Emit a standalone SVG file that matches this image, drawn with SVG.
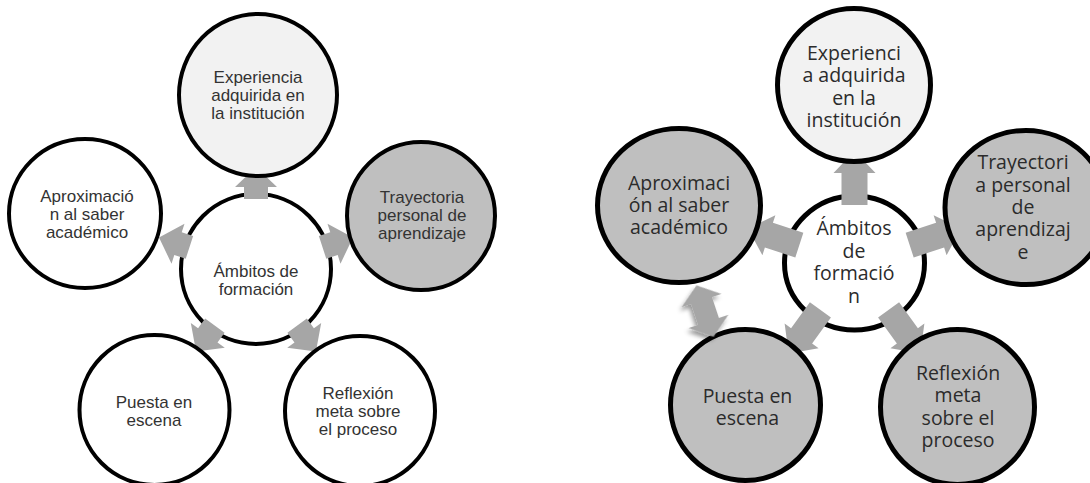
<svg xmlns="http://www.w3.org/2000/svg" xmlns:xlink="http://www.w3.org/1999/xlink" width="1090" height="483" viewBox="0 0 1090 483">
<style>
.nL{stroke:#000;stroke-width:4}
.nR{stroke:#000;stroke-width:5}
.tL{font-family:"Liberation Sans",Arial,sans-serif;font-size:17px;fill:#333;text-anchor:middle}
.tR{font-family:"Open Sans","Noto Sans",sans-serif;font-weight:400;font-size:19.5px;fill:#2b2b2b;text-anchor:middle}
.arr{fill:#a6a6a6}
</style>
<defs>
<path id="arrL" d="M70,-12 L82,-12 L82,-21 L102,0 L82,21 L82,12 L70,12 Z"/>
<path id="arrR" d="M58,-13 L90,-13 L90,-21 L112,0 L90,21 L90,13 L58,13 Z"/>
<filter id="sh" x="-50%" y="-50%" width="200%" height="200%">
<feDropShadow dx="3" dy="3" stdDeviation="2" flood-color="#000" flood-opacity="0.4"/>
</filter>
</defs>
<rect width="1090" height="483" fill="#fff"/>

<!-- LEFT DIAGRAM -->
<g id="L-center"><circle class="nL" cx="256" cy="269" r="75" fill="#fff"/></g>
<g id="L-connectors" class="arr">
<use xlink:href="#arrL" href="#arrL" transform="translate(256 269) rotate(-90)"/>
<use xlink:href="#arrL" href="#arrL" transform="translate(256 269) rotate(-18)"/>
<use xlink:href="#arrL" href="#arrL" transform="translate(256 269) rotate(54)"/>
<use xlink:href="#arrL" href="#arrL" transform="translate(256 269) rotate(126)"/>
<use xlink:href="#arrL" href="#arrL" transform="translate(256 269) rotate(198)"/>
</g>
<g id="L-experiencia"><ellipse class="nL" cx="258" cy="95" rx="79" ry="81" fill="#f2f2f2"/>
<text class="tL"><tspan x="258" y="83">Experiencia</tspan><tspan x="258" y="101">adquirida en</tspan><tspan x="258" y="119">la institución</tspan></text></g>
<g id="L-trayectoria"><circle class="nL" cx="421" cy="216" r="74" fill="#bfbfbf"/>
<text class="tL"><tspan x="422" y="203">Trayectoria</tspan><tspan x="422" y="221">personal de</tspan><tspan x="422" y="239">aprendizaje</tspan></text></g>
<g id="L-reflexion"><circle class="nL" cx="360" cy="411" r="75" fill="#fff"/>
<text class="tL"><tspan x="358" y="399">Reflexión</tspan><tspan x="358" y="417">meta sobre</tspan><tspan x="358" y="435">el proceso</tspan></text></g>
<g id="L-puesta"><circle class="nL" cx="154.5" cy="410" r="75" fill="#fff"/>
<text class="tL"><tspan x="154" y="408">Puesta en</tspan><tspan x="154" y="426">escena</tspan></text></g>
<g id="L-aproximacion"><ellipse class="nL" cx="85" cy="213.5" rx="76" ry="74.5" fill="#fff"/>
<text class="tL"><tspan x="87" y="202">Aproximació</tspan><tspan x="87" y="220">n al saber</tspan><tspan x="87" y="238">académico</tspan></text></g>
<g id="L-center-label"><text class="tL"><tspan x="256" y="277">Ámbitos de</tspan><tspan x="256" y="295">formación</tspan></text></g>

<!-- RIGHT DIAGRAM -->
<g id="R-center"><ellipse class="nR" cx="854.5" cy="263" rx="70" ry="67" fill="#fff"/></g>
<g id="R-connectors" class="arr">
<use xlink:href="#arrR" href="#arrR" transform="translate(854.5 263) rotate(-90)"/>
<use xlink:href="#arrR" href="#arrR" transform="translate(854.5 263) rotate(-18)"/>
<use xlink:href="#arrR" href="#arrR" transform="translate(854.5 263) rotate(54)"/>
<use xlink:href="#arrR" href="#arrR" transform="translate(854.5 263) rotate(126)"/>
<use xlink:href="#arrR" href="#arrR" transform="translate(854.5 263) rotate(198)"/>
</g>
<g id="R-experiencia"><circle class="nR" cx="854" cy="85" r="76.5" fill="#f2f2f2"/>
<text class="tR"><tspan x="854" y="60">Experienci</tspan><tspan x="854" y="82.3">a adquirida</tspan><tspan x="854" y="104.6">en la</tspan><tspan x="854" y="126.9">institución</tspan></text></g>
<g id="R-trayectoria"><ellipse class="nR" cx="1026" cy="207.5" rx="81" ry="77" fill="#bfbfbf"/>
<text class="tR"><tspan x="1023" y="169.3">Trayectori</tspan><tspan x="1023" y="191.6">a personal</tspan><tspan x="1023" y="213.9">de</tspan><tspan x="1023" y="236.2">aprendizaj</tspan><tspan x="1023" y="258.5">e</tspan></text></g>
<g id="R-reflexion"><ellipse class="nR" cx="957.5" cy="407" rx="77" ry="77.5" fill="#bfbfbf"/>
<text class="tR"><tspan x="958" y="380">Reflexión</tspan><tspan x="958" y="402.4">meta</tspan><tspan x="958" y="424.8">sobre el</tspan><tspan x="958" y="447.2">proceso</tspan></text></g>
<g id="R-puesta"><ellipse class="nR" cx="745.5" cy="405" rx="75" ry="75.5" fill="#bfbfbf"/>
<text class="tR"><tspan x="747.5" y="403.3">Puesta en</tspan><tspan x="747.5" y="424.6">escena</tspan></text></g>
<g id="R-aproximacion"><ellipse class="nR" cx="679" cy="205.5" rx="81.5" ry="77" fill="#bfbfbf"/>
<text class="tR"><tspan x="679" y="190">Aproximaci</tspan><tspan x="679" y="212">ón al saber</tspan><tspan x="679" y="234">académico</tspan></text></g>
<g id="R-center-label"><text class="tR"><tspan x="854" y="235">Ámbitos</tspan><tspan x="854" y="257.5">de</tspan><tspan x="854" y="280">formació</tspan><tspan x="854" y="302.5">n</tspan></text></g>
<g id="R-double-connector"><path class="arr" filter="url(#sh)" transform="translate(705 311) rotate(71.6)" d="M-27,0 L-11,-21 L-11,-11 L11,-11 L11,-21 L27,0 L11,21 L11,11 L-11,11 L-11,21 Z"/></g>
</svg>
